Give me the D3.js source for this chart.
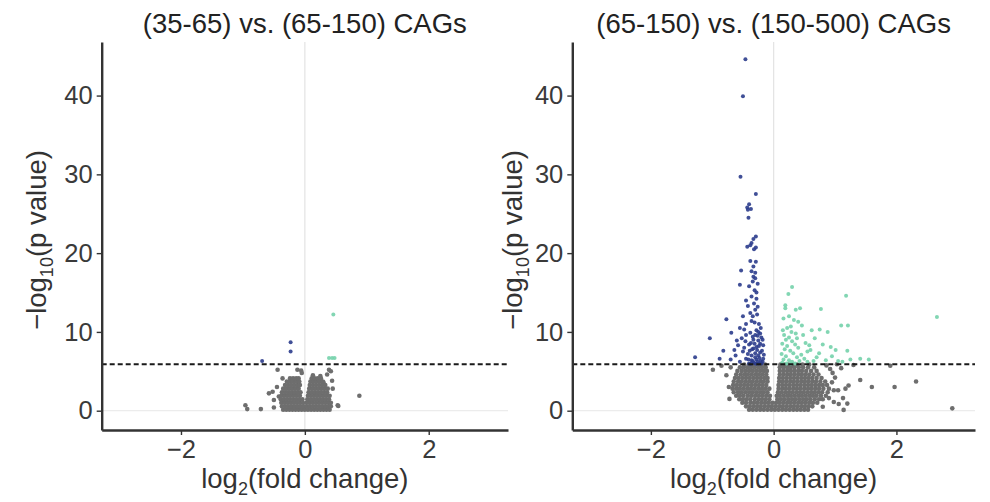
<!DOCTYPE html>
<html>
<head>
<meta charset="utf-8">
<script src="https://cdn.jsdelivr.net/npm/d3@7"></script>
<style>
  html, body { margin: 0; padding: 0; background: #fff; }
  svg { display: block; }
</style>
</head>
<body>
<svg id="chart" width="990" height="502"></svg>
<script>
// Two volcano plots side by side.
//   X = log2(fold change)  Y = -log10(p value)  dashed line = significance cut-off

const TITLES = ["(35-65) vs. (65-150) CAGs", "(65-150) vs. (150-500) CAGs"];
const X_TICKS = [-2, 0, 2];
const Y_TICKS = [0, 10, 20, 30, 40];
const X_DOMAIN = [-3.28, 3.28];
const Y_DOMAIN = [-2.45, 46.8];
const CUTOFF = 5.9;

// left panel
const leftUp = [[0.46, 12.2], [0.39, 6.7], [0.44, 6.7], [0.48, 6.7]];
const leftDown = [[-0.23, 8.7], [-0.23, 7.5], [-0.69, 6.3]];
const leftNsScatter = [
  [-0.44, 5.2], [-0.12, 5.2], [-0.06, 5.1], [0.39, 5.2], [0.42, 5.0], [-0.36, 4.1], [-0.52, 2.4],
  [-0.58, 2.2], [-0.50, 1.35], [-0.96, 0.7], [-0.93, 0.2], [-0.71, 0.2], [-0.50, 0.4], [0.53, 0.7],
  [0.13, 4.5], [0.25, 4.4], [0.30, 3.6], [0.88, 1.9], [0.54, 0.6], [-0.45, 3.0], [-0.42, 1.8],
  [0.44, 3.8], [0.45, 2.8], [-0.05, 4.8], [0.36, 4.6],
];
// dense core, one row of x values per -log10(p) level
const leftNsRows = [
  [0.12, [-0.35, -0.30, -0.25, -0.20, -0.15, -0.10, -0.05, 0.0, 0.05, 0.10, 0.15, 0.20, 0.25, 0.30, 0.35, 0.40]],
  [0.55, [-0.37, -0.32, -0.27, -0.22, -0.17, -0.12, -0.07, -0.02, 0.03, 0.08, 0.13, 0.18, 0.23, 0.28, 0.33, 0.38, 0.42]],
  [1.0, [-0.38, -0.33, -0.28, -0.23, -0.18, -0.13, -0.08, -0.03, 0.03, 0.08, 0.13, 0.18, 0.23, 0.28, 0.33, 0.38, 0.42]],
  [1.45, [-0.39, -0.34, -0.29, -0.24, -0.19, -0.14, -0.09, -0.04, 0.04, 0.09, 0.14, 0.19, 0.24, 0.29, 0.34, 0.39]],
  [1.9, [-0.38, -0.33, -0.28, -0.23, -0.18, -0.13, -0.08, 0.05, 0.10, 0.15, 0.20, 0.25, 0.30, 0.35, 0.40]],
  [2.35, [-0.37, -0.32, -0.27, -0.22, -0.17, -0.12, -0.07, 0.06, 0.11, 0.16, 0.21, 0.26, 0.31, 0.36]],
  [2.8, [-0.35, -0.30, -0.25, -0.20, -0.15, -0.10, 0.07, 0.12, 0.17, 0.22, 0.27, 0.32, 0.37]],
  [3.25, [-0.32, -0.27, -0.22, -0.17, -0.12, -0.08, 0.08, 0.13, 0.18, 0.23, 0.28, 0.33]],
  [3.7, [-0.29, -0.24, -0.19, -0.14, -0.09, 0.09, 0.14, 0.19, 0.24, 0.29]],
  [4.1, [-0.24, -0.19, -0.14, -0.10, 0.11, 0.16, 0.21, 0.26]],
];

// right panel
const rightUp = [
  [0.30, 15.7], [0.24, 14.8], [1.18, 14.6], [0.19, 13.4], [0.19, 13.0], [0.36, 12.8], [0.43, 13.0],
  [0.77, 12.9], [0.16, 11.7], [0.33, 11.5], [0.46, 10.8], [0.22, 10.5], [0.28, 10.7], [0.62, 10.2],
  [0.75, 10.3], [0.88, 10.0], [1.10, 10.8], [1.21, 10.8], [0.67, 9.2], [0.93, 8.1], [1.01, 7.7],
  [1.20, 7.6], [0.60, 7.7], [0.74, 7.3], [1.41, 6.6], [1.25, 6.5], [1.55, 6.5], [2.66, 11.9],
  [0.17, 9.6], [0.20, 9.0], [0.25, 9.3], [0.30, 8.8], [0.14, 8.5], [0.22, 8.2], [0.35, 8.4],
  [0.40, 8.0], [0.18, 7.8], [0.27, 7.6], [0.13, 7.2], [0.32, 7.3], [0.45, 7.1], [0.20, 6.9],
  [0.38, 6.8], [0.16, 6.5], [0.25, 6.4], [0.50, 6.6], [0.30, 6.2], [0.42, 6.3], [0.14, 6.1],
  [0.21, 6.0], [0.35, 6.0], [0.55, 6.2], [0.65, 6.3], [0.85, 6.4], [1.05, 6.3], [0.48, 9.6],
  [0.38, 9.2], [0.52, 8.6], [0.58, 8.3], [0.80, 8.4], [0.70, 6.8], [0.95, 6.9], [1.12, 6.2],
  [0.29, 10.0], [0.15, 10.2], [0.36, 9.8], [0.25, 12.0], [0.40, 11.3], [0.55, 7.5], [0.28, 5.95],
];
const rightDown = [
  [-0.46, 44.6], [-0.50, 39.9], [-0.54, 29.7], [-0.29, 27.5], [-0.40, 26.2], [-0.43, 25.8],
  [-0.37, 25.6], [-0.42, 25.5], [-0.41, 24.5], [-0.29, 22.1], [-0.33, 21.8], [-0.43, 20.8],
  [-0.36, 21.3], [-0.32, 20.5], [-0.38, 21.0], [-0.29, 20.7], [-0.38, 19.0], [-0.29, 18.9],
  [-0.53, 17.8], [-0.36, 17.7], [-0.33, 17.0], [-0.34, 16.4], [-0.30, 16.8], [-0.26, 16.1],
  [-0.55, 16.0], [-0.40, 15.8], [-0.31, 15.3], [-0.28, 15.0], [-0.36, 14.5], [-0.45, 14.0],
  [-0.32, 13.6], [-0.26, 13.2], [-0.30, 12.8], [-0.38, 12.4], [-0.50, 12.0], [-0.27, 12.2],
  [-0.36, 11.4], [-0.77, 11.6], [-0.45, 11.0], [-0.31, 11.2], [-0.55, 10.5], [-0.28, 10.2],
  [-0.69, 9.9], [-0.38, 9.9], [-0.22, 9.8], [-0.30, 9.6], [-1.04, 9.2], [-0.52, 9.2],
  [-0.46, 8.8], [-0.33, 9.0], [-0.25, 8.9], [-0.20, 9.3], [-0.58, 8.3], [-0.40, 8.4],
  [-0.28, 8.1], [-0.22, 8.5], [-0.35, 7.8], [-0.50, 7.5], [-0.19, 7.6], [-0.42, 7.2],
  [-0.30, 7.3], [-0.25, 7.0], [-0.62, 7.0], [-1.28, 6.8], [-0.88, 6.6], [-0.70, 6.5],
  [-0.45, 6.6], [-0.36, 6.4], [-0.28, 6.5], [-0.21, 6.3], [-0.32, 6.1], [-0.40, 6.0],
  [-0.24, 6.0], [-0.18, 6.2], [-0.55, 6.2], [-0.34, 9.4], [-0.26, 9.5], [-0.18, 9.0],
  [-0.37, 8.6], [-0.31, 8.5], [-0.24, 8.2], [-0.17, 8.3], [-0.39, 7.6], [-0.33, 7.9],
  [-0.27, 7.7], [-0.22, 7.4], [-0.16, 7.1], [-0.36, 7.0], [-0.30, 6.8], [-0.23, 6.7],
  [-0.17, 6.6], [-0.41, 6.5], [-0.34, 6.3], [-0.26, 6.2], [-0.20, 6.0], [-0.29, 5.95],
  [-0.37, 5.95], [-0.48, 10.3], [-0.42, 13.3], [-0.34, 12.0], [-0.28, 14.2], [-0.33, 18.3],
  [-0.30, 17.5], [-0.24, 11.0], [-0.21, 10.5], [-0.25, 10.0], [-0.45, 9.6], [-0.60, 8.9],
  [-0.82, 7.6], [-0.64, 7.7], [-0.48, 8.0],
];
const rightNsScatter = [
  [-0.99, 5.2], [-0.77, 4.5], [-0.70, 5.5], [-0.85, 5.7], [-0.73, 3.0], [-0.72, 1.5],
  [1.41, 3.9], [1.60, 3.0], [1.97, 3.0], [2.32, 3.7], [2.91, 0.3], [1.14, 0.1], [1.06, 0.85],
  [1.20, 0.9], [0.98, 1.1], [1.22, 3.2], [1.17, 2.8], [1.13, 1.6], [1.90, 5.7], [1.03, 5.9],
  [0.96, 4.8], [1.05, 2.6], [0.95, 3.6], [0.92, 5.3], [1.00, 4.2], [0.90, 1.6], [0.80, 0.5],
  [0.98, 2.6], [1.10, 5.4], [0.86, 5.75], [1.30, 5.8],
];
const rightNsRows = [
  [0.12, [-0.40, -0.34, -0.28, -0.22, -0.16, -0.10, -0.04, 0.02, 0.08, 0.14, 0.20, 0.26, 0.32, 0.38, 0.44, 0.50, 0.56]],
  [0.55, [-0.45, -0.39, -0.33, -0.27, -0.21, -0.15, -0.09, -0.03, 0.03, 0.09, 0.15, 0.21, 0.27, 0.33, 0.39, 0.45, 0.51, 0.57, 0.63]],
  [1.0, [-0.51, -0.45, -0.38, -0.32, -0.26, -0.20, -0.14, -0.08, -0.02, 0.04, 0.10, 0.16, 0.22, 0.28, 0.34, 0.40, 0.46, 0.52, 0.58, 0.64, 0.71]],
  [1.45, [-0.56, -0.50, -0.44, -0.38, -0.31, -0.25, -0.19, -0.13, -0.07, 0.06, 0.12, 0.18, 0.24, 0.30, 0.36, 0.42, 0.48, 0.54, 0.60, 0.67, 0.74, 0.80]],
  [1.9, [-0.61, -0.55, -0.49, -0.42, -0.36, -0.30, -0.24, -0.18, -0.12, -0.06, 0.05, 0.10, 0.16, 0.22, 0.28, 0.34, 0.40, 0.46, 0.52, 0.58, 0.64, 0.70, 0.77, 0.85]],
  [2.35, [-0.65, -0.58, -0.52, -0.46, -0.40, -0.34, -0.28, -0.22, -0.16, -0.10, 0.07, 0.13, 0.19, 0.25, 0.31, 0.37, 0.43, 0.49, 0.55, 0.61, 0.67, 0.73, 0.79, 0.88]],
  [2.8, [-0.67, -0.61, -0.55, -0.49, -0.43, -0.37, -0.31, -0.25, -0.19, -0.13, -0.07, 0.08, 0.14, 0.20, 0.26, 0.32, 0.38, 0.44, 0.50, 0.56, 0.62, 0.68, 0.74, 0.81, 0.90]],
  [3.25, [-0.66, -0.60, -0.54, -0.48, -0.42, -0.36, -0.30, -0.24, -0.18, -0.12, 0.08, 0.14, 0.20, 0.26, 0.32, 0.38, 0.44, 0.50, 0.56, 0.62, 0.68, 0.74, 0.80, 0.87]],
  [3.7, [-0.65, -0.58, -0.52, -0.46, -0.40, -0.34, -0.28, -0.22, -0.16, -0.10, 0.09, 0.15, 0.21, 0.27, 0.33, 0.39, 0.45, 0.51, 0.57, 0.63, 0.69, 0.76, 0.84]],
  [4.15, [-0.63, -0.57, -0.51, -0.45, -0.39, -0.33, -0.27, -0.21, -0.15, -0.10, 0.09, 0.15, 0.21, 0.27, 0.33, 0.39, 0.45, 0.51, 0.57, 0.63, 0.70, 0.78]],
  [4.6, [-0.61, -0.54, -0.48, -0.42, -0.36, -0.30, -0.24, -0.18, -0.12, 0.10, 0.16, 0.22, 0.28, 0.34, 0.40, 0.46, 0.52, 0.58, 0.65, 0.73]],
  [5.05, [-0.59, -0.52, -0.46, -0.40, -0.34, -0.28, -0.22, -0.16, -0.11, 0.10, 0.16, 0.22, 0.28, 0.34, 0.40, 0.46, 0.53, 0.61, 0.70]],
  [5.5, [-0.55, -0.49, -0.43, -0.37, -0.31, -0.25, -0.19, -0.13, 0.10, 0.16, 0.22, 0.28, 0.34, 0.41, 0.48, 0.56, 0.66]],
  [5.85, [-0.48, -0.40, -0.33, -0.26, -0.20, -0.14, 0.11, 0.17, 0.24, 0.31, 0.38, 0.47, 0.58]],
];

const W = 990, H = 502;
const TOP = 42, BOTTOM = 430;
const FONT = "'Liberation Sans', Arial, Helvetica, sans-serif";
const C_NS = "#6e6e6e", C_UP = "#74d1ab", C_DOWN = "#2b3c8c";

const flatten = (rows) => rows.flatMap(([y, xs]) => xs.map((x) => [x, y]));

const panels = [
  { title: TITLES[0], left: 101.7, right: 508, ylabX: 46,
    ns: leftNsScatter.concat(flatten(leftNsRows)), up: leftUp, down: leftDown },
  { title: TITLES[1], left: 572.3, right: 975, ylabX: 522,
    ns: rightNsScatter.concat(flatten(rightNsRows)), up: rightUp, down: rightDown },
];

const svg = d3.select("#chart");

panels.forEach((p) => {
  const x = d3.scaleLinear().domain(X_DOMAIN).range([p.left, p.right]);
  const y = d3.scaleLinear().domain(Y_DOMAIN).range([BOTTOM, TOP]);
  const g = svg.append("g");

  // reference lines at zero
  g.append("line").attr("x1", x(0)).attr("x2", x(0)).attr("y1", TOP).attr("y2", BOTTOM)
    .attr("stroke", "#e3e3e3").attr("stroke-width", 1.2);
  g.append("line").attr("x1", p.left).attr("x2", p.right).attr("y1", y(0)).attr("y2", y(0))
    .attr("stroke", "#ececec").attr("stroke-width", 1.2);

  g.selectAll("circle.ns").data(p.ns).enter().append("circle").attr("class", "ns")
    .attr("cx", (d) => x(d[0])).attr("cy", (d) => y(d[1])).attr("r", 2.3)
    .attr("fill", C_NS);
  g.selectAll("circle.down").data(p.down).enter().append("circle").attr("class", "down")
    .attr("cx", (d) => x(d[0])).attr("cy", (d) => y(d[1])).attr("r", 2)
    .attr("fill", C_DOWN).attr("fill-opacity", 0.9);
  g.selectAll("circle.up").data(p.up).enter().append("circle").attr("class", "up")
    .attr("cx", (d) => x(d[0])).attr("cy", (d) => y(d[1])).attr("r", 2)
    .attr("fill", C_UP).attr("fill-opacity", 0.9);

  g.append("line").attr("x1", p.left).attr("x2", p.right).attr("y1", y(CUTOFF)).attr("y2", y(CUTOFF))
    .attr("stroke", "#1a1a1a").attr("stroke-width", 2).attr("stroke-dasharray", "5,3");

  const xAxis = d3.axisBottom(x).tickValues(X_TICKS).tickFormat(d3.format("d")).tickSize(5).tickPadding(5).tickSizeOuter(0);
  const yAxis = d3.axisLeft(y).tickValues(Y_TICKS).tickFormat(d3.format("d")).tickSize(5).tickPadding(4).tickSizeOuter(0);
  const style = (s) => {
    s.select(".domain").attr("stroke", "#333").attr("stroke-width", 2.4);
    s.selectAll(".tick line").attr("stroke", "#333").attr("stroke-width", 1.4);
    s.selectAll("text").style("font", `25.5px ${FONT}`).style("fill", "#3a3a3a");
  };
  g.append("g").attr("transform", `translate(0,${BOTTOM})`).call(xAxis).call(style);
  g.append("g").attr("transform", `translate(${p.left},0)`).call(yAxis).call(style);

  g.append("text").attr("x", (p.left + p.right) / 2).attr("y", 33)
    .attr("text-anchor", "middle").style("font", `27.5px ${FONT}`).style("fill", "#222")
    .text(p.title);

  const xl = g.append("text").attr("x", x(0)).attr("y", 488)
    .attr("text-anchor", "middle").style("font", `27.5px ${FONT}`).style("fill", "#333");
  xl.append("tspan").text("log");
  xl.append("tspan").attr("dy", 7).style("font-size", "18px").text("2");
  xl.append("tspan").attr("dy", -7).text("(fold change)");

  const yl = g.append("text")
    .attr("transform", `translate(${p.ylabX},${(TOP + BOTTOM) / 2 + 4}) rotate(-90)`)
    .attr("text-anchor", "middle").style("font", `27.5px ${FONT}`).style("fill", "#333");
  yl.append("tspan").text("\u2212log");
  yl.append("tspan").attr("dy", 7).style("font-size", "18px").text("10");
  yl.append("tspan").attr("dy", -7).text("(p value)");
});
</script>
</body>
</html>
